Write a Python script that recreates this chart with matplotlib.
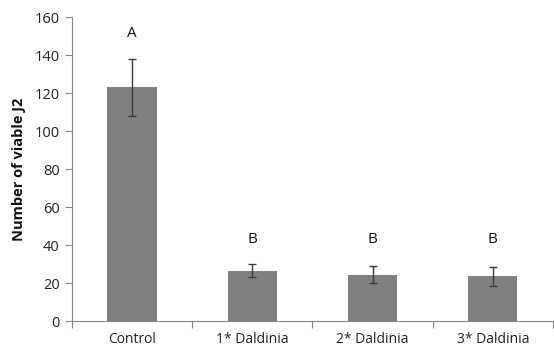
import matplotlib
matplotlib.use("Agg")
import matplotlib.pyplot as plt
import numpy as np

categories = ["Control", "1* Daldinia", "2* Daldinia", "3* Daldinia"]
means = [123.0, 26.5, 24.5, 23.5]
errors = [15.0, 3.5, 4.3, 4.8]
letters = ["A", "B", "B", "B"]
letter_y = [151.5, 43.0, 43.0, 43.0]
yticks = [0, 20, 40, 60, 80, 100, 120, 140, 160]

plt.rcParams["font.family"] = ["Open Sans", "DejaVu Sans"]

fig = plt.figure(figsize=(5.54, 3.52), dpi=100)
ax = fig.add_axes([0.13, 0.088, 0.868, 0.863])

x = np.arange(len(categories))
ax.bar(x, means, width=0.41, color="#808080", zorder=2)
ax.errorbar(x, means, yerr=errors, fmt="none", ecolor="#3a3a3a",
            elinewidth=1.0, capsize=3, capthick=1.0, zorder=3)

for xi, lab, ly in zip(x, letters, letter_y):
    ax.text(xi, ly, lab, ha="center", va="center", fontsize=11, color="#111111")

ax.set_xlim(-0.5, len(categories) - 0.5)
ax.set_ylim(0, 160)
ax.set_yticks(yticks)
ax.set_xticks(x)
ax.set_xticklabels(categories)
ax.set_xticks(np.arange(-0.5, len(categories), 1.0), minor=True)
ax.tick_params(axis="x", which="major", length=0, pad=8, labelsize=10, colors="#222222")
ax.tick_params(axis="x", which="minor", length=5, color="#888888", width=0.8)
ax.tick_params(axis="y", length=5, color="#888888", width=0.8, labelsize=10.5,
               labelcolor="#222222", pad=4)

for s in ["top", "right"]:
    ax.spines[s].set_visible(False)
for s in ["left", "bottom"]:
    ax.spines[s].set_color("#888888")
    ax.spines[s].set_linewidth(0.8)

ax.set_ylabel("Number of viable J2", fontsize=10.5, fontweight="bold", color="#111111", labelpad=6)

fig.savefig("out.png", dpi=100)
